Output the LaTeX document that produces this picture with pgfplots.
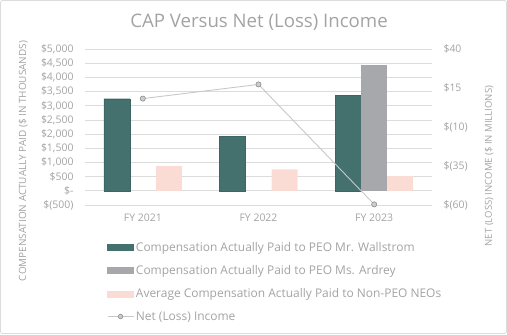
\documentclass[border=0pt]{standalone}
\usepackage{pgfplots}
\pgfplotsset{compat=1.18}
\usepackage{fontspec}
\setmainfont{Open Sans}
\definecolor{teal1}{HTML}{44706E}
\definecolor{grey1}{HTML}{A6A8AB}
\definecolor{pink1}{HTML}{FADCD5}
\definecolor{txt}{HTML}{A3A3A3}
\definecolor{gridc}{HTML}{DCDCDC}
\definecolor{linec}{HTML}{C8C8C8}
\begin{document}
\begin{tikzpicture}[x=1bp,y=1bp]
\path (0,0) rectangle (507,334);
\draw[gridc,line width=0.8bp,rounded corners=2bp] (0.5,0.5) rectangle (506.5,333.5);
\node[txt,font=\fontsize{18.7}{22}\selectfont,anchor=base] at (259,307) {CAP Versus Net (Loss) Income};
\begin{axis}[
  at={(85bp,129bp)}, anchor=south west,
  width=347bp, height=156bp, scale only axis,
  xmin=-0.5, xmax=2.5,
  ymin=-500, ymax=5000,
  ybar=0pt, bar width=26bp,
  axis line style={draw=none},
  tick style={draw=none},
  ymajorgrids, grid style={gridc,line width=0.8bp},
  ytick={-500,0,...,5000},
  yticklabels={{\$(500)},{\$-},{\$500},{\$1,000},{\$1,500},{\$2,000},{\$2,500},{\$3,000},{\$3,500},{\$4,000},{\$4,500},{\$5,000}},
  xtick={0,1,2},
  xticklabels={FY 2021,FY 2022,FY 2023},
  ticklabel style={txt,font=\fontsize{10.5}{12}\selectfont},
  yticklabel style={xshift=-8bp},
  xticklabel style={yshift=-1bp},
  clip=false,
]
\addplot[fill=teal1,draw=teal1!90!black,line width=0.4bp] coordinates {(0,3247) (1,1932) (2,3367)};
\addplot[fill=grey1,draw=none] coordinates {(2,4436)};
\addplot[fill=pink1,draw=none] coordinates {(0,875) (1,758) (2,522)};
\node[txt,rotate=90,font=\fontsize{10}{11}\selectfont] at (axis description cs:-0.178,0.282) {COMPENSATION ACTUALLY PAID (\$ IN THOUSANDS)};
\node[txt,rotate=90,font=\fontsize{9.6}{11}\selectfont] at (axis description cs:1.164,0.25) {NET (LOSS) INCOME (\$ IN MILLIONS)};
\end{axis}
\begin{axis}[
  at={(85bp,129bp)}, anchor=south west,
  width=347bp, height=156bp, scale only axis,
  xmin=-0.5, xmax=2.5,
  ymin=-60, ymax=40,
  axis line style={draw=none},
  tick style={draw=none},
  xtick=\empty,
  axis y line*=right,
  ytick={-60,-35,-10,15,40},
  yticklabels={\$(60),\$(35),\$(10),\$15,\$40},
  ticklabel style={txt,font=\fontsize{10.5}{12}\selectfont},
  yticklabel style={xshift=8bp},
  legend style={at={(axis description cs:0.063,-0.225)},anchor=north west,draw=none,fill=none,
    font=\fontsize{12}{13}\selectfont,text=txt,row sep=8.5bp,inner sep=0pt,
    /tikz/every odd column/.append style={column sep=0bp}},
  legend cell align=left,
  clip=false,
]
\addlegendimage{legend image code/.code={\fill[teal1] (0,-3bp) rectangle (26bp,3bp);}}
\addlegendentry{Compensation Actually Paid to PEO Mr. Wallstrom}
\addlegendimage{legend image code/.code={\fill[grey1] (0,-3bp) rectangle (26bp,3bp);}}
\addlegendentry{Compensation Actually Paid to PEO Ms. Ardrey}
\addlegendimage{legend image code/.code={\fill[pink1] (0,-3bp) rectangle (26bp,3bp);}}
\addlegendentry{Average Compensation Actually Paid to Non-PEO NEOs}
\addplot[linec,line width=0.9bp,mark=*,mark size=2.6bp,mark options={fill=linec!85!black!60,draw=linec!70!black,line width=0.6bp},
  legend image code/.code={\draw[linec,line width=0.9bp] (0,0) -- (26bp,0);\draw[fill=linec!85!black!60,draw=linec!70!black,line width=0.6bp] (13bp,0) circle (2.3bp);}]
  coordinates {(0,8.2) (1,17.3) (2,-59.6)};
\addlegendentry{Net (Loss) Income}
\end{axis}
\end{tikzpicture}
\end{document}
